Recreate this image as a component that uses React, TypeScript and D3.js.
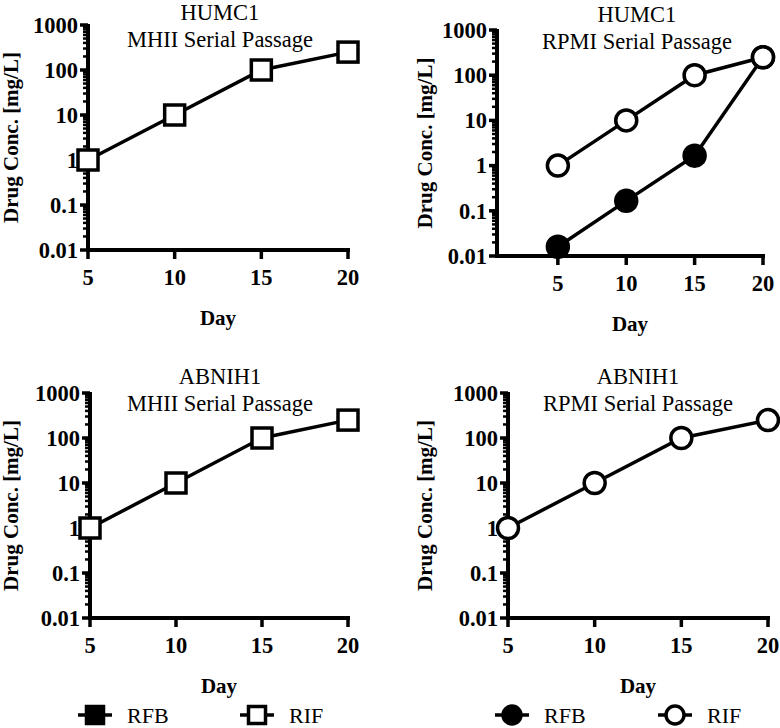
import React from "react";
import * as d3 from "d3";

const days = [5, 10, 15, 20];
const rifHumcMHII = [1, 10, 100, 250];
const rifHumcRPMI = [1, 10, 100, 250];
const rfbHumcRPMI = [0.016, 0.166, 1.66, 250];
const rifAbnihMHII = [1, 10, 100, 250];
const rifAbnihRPMI = [1, 10, 100, 250];
const yMajorTicks = [0.01, 0.1, 1, 10, 100, 1000];
const yTickLabels = ["0.01", "0.1", "1", "10", "100", "1000"];
const xTicks = [5, 10, 15, 20];
const titles = [
  ["HUMC1", "MHII Serial Passage"],
  ["HUMC1", "RPMI Serial Passage"],
  ["ABNIH1", "MHII Serial Passage"],
  ["ABNIH1", "RPMI Serial Passage"],
];
const legendLabels = ["RFB", "RIF"];

type Series = { values: number[]; filled: boolean };
type Panel = {
  x0: number; x1: number; y0: number; y1: number; xMin: number;
  shape: "square" | "circle"; series: Series[]; title: string[]; titleX: number; titleY: number; ylabX: number;
};

const panels: Panel[] = [
  { x0: 88, x1: 348, y0: 25, y1: 250, xMin: 5, shape: "square", series: [{ values: rifHumcMHII, filled: false }], title: titles[0], titleX: 220, titleY: 20, ylabX: 11 },
  { x0: 497, x1: 763, y0: 30, y1: 256, xMin: 0.55, shape: "circle", series: [{ values: rfbHumcRPMI, filled: true }, { values: rifHumcRPMI, filled: false }], title: titles[1], titleX: 637, titleY: 22, ylabX: 425 },
  { x0: 90, x1: 348, y0: 393, y1: 618, xMin: 5, shape: "square", series: [{ values: rifAbnihMHII, filled: false }], title: titles[2], titleX: 220, titleY: 384, ylabX: 11 },
  { x0: 508, x1: 768, y0: 393, y1: 618, xMin: 5, shape: "circle", series: [{ values: rifAbnihRPMI, filled: false }], title: titles[3], titleX: 638, titleY: 384, ylabX: 425 },
];

const serif = "Liberation Serif, Tinos, Times New Roman, Times, DejaVu Serif, serif";

function Marker({ x, y, shape, filled, size = 20 }: { x: number; y: number; shape: string; filled: boolean; size?: number }) {
  const fill = filled ? "#000" : "#fff";
  if (shape === "square") {
    return <rect x={x - size / 2} y={y - size / 2} width={size} height={size} fill={fill} stroke="#000" strokeWidth={3.5} />;
  }
  return <circle cx={x} cy={y} r={size / 2} fill={fill} stroke="#000" strokeWidth={3.5} />;
}

function PanelView({ p }: { p: Panel }) {
  const y = d3.scaleLog().domain([0.01, 1000]).range([p.y1, p.y0]);
  const x = d3.scaleLinear().domain([p.xMin, 20]).range([p.x0, p.x1]);
  const minor: number[] = [];
  for (let k = -2; k <= 2; k++) for (let m = 2; m <= 9; m++) minor.push(m * Math.pow(10, k));
  const line = d3.line<number>().x((_, i) => x(days[i])).y((v) => y(v));
  return (
    <g>
      {p.series.map((s, si) => (
        <path key={si} d={line(s.values) || ""} fill="none" stroke="#000" strokeWidth={3.5} />
      ))}
      <line x1={p.x0} x2={p.x0} y1={p.y0 - 1} y2={p.y1 + 2} stroke="#000" strokeWidth={4} />
      <line x1={p.x0 - 2} x2={p.x1 + 2} y1={p.y1} y2={p.y1} stroke="#000" strokeWidth={4} />
      {minor.map((v, i) => (
        <line key={"mn" + i} x1={p.x0 - 5} x2={p.x0} y1={y(v)} y2={y(v)} stroke="#000" strokeWidth={2.5} />
      ))}
      {yMajorTicks.map((v, i) => (
        <g key={"mj" + i}>
          <line x1={p.x0 - 8} x2={p.x0} y1={y(v)} y2={y(v)} stroke="#000" strokeWidth={3.5} />
          <text x={p.x0 - 10} y={y(v)} dy="0.35em" textAnchor="end" fontFamily={serif} fontWeight="bold" fontSize={22.5}>{yTickLabels[i]}</text>
        </g>
      ))}
      {xTicks.map((v, i) => (
        <g key={"xt" + i}>
          <line x1={x(v)} x2={x(v)} y1={p.y1} y2={p.y1 + 9} stroke="#000" strokeWidth={3.5} />
          <text x={x(v)} y={p.y1 + 35} textAnchor="middle" fontFamily={serif} fontWeight="bold" fontSize={22.5}>{v}</text>
        </g>
      ))}
      <text x={(p.x0 + p.x1) / 2} y={p.y1 + 75} textAnchor="middle" fontFamily={serif} fontWeight="bold" fontSize={21}>Day</text>
      <text transform={`translate(${p.ylabX},${(p.y0 + p.y1) / 2}) rotate(-90)`} dy="0.35em" textAnchor="middle" fontFamily={serif} fontWeight="bold" fontSize={21}>Drug Conc. [mg/L]</text>
      <text x={p.titleX} y={p.titleY} textAnchor="middle" fontFamily={serif} fontSize={22.5}>{p.title[0]}</text>
      <text x={p.titleX} y={p.titleY + 27} textAnchor="middle" fontFamily={serif} fontSize={22.5}>{p.title[1]}</text>
      {p.series.map((s, si) => (
        <g key={"m" + si}>
          {s.values.map((v, i) => (
            <Marker key={i} x={x(days[i])} y={y(v)} shape={p.shape} filled={s.filled} size={p.shape === "circle" ? 21 : 20} />
          ))}
        </g>
      ))}
    </g>
  );
}

function LegendItem({ x, y, shape, filled, label }: { x: number; y: number; shape: string; filled: boolean; label: string }) {
  return (
    <g>
      <line x1={x - 17} x2={x + 17} y1={y} y2={y} stroke="#000" strokeWidth={3.5} />
      <Marker x={x} y={y} shape={shape} filled={filled} size={shape === "circle" ? 18 : 17} />
      <text x={x + 32} y={y} dy="0.35em" fontFamily={serif} fontSize={22}>{label}</text>
    </g>
  );
}

export default function App() {
  const legendY = 715;
  return (
    <svg width={780} height={728} style={{ position: "absolute", left: 0, top: 0, background: "#fff" }}>
      <rect width={780} height={728} fill="#fff" />
      {panels.map((p, i) => (
        <PanelView key={i} p={p} />
      ))}
      <LegendItem x={95} y={legendY} shape="square" filled={true} label={legendLabels[0]} />
      <LegendItem x={257} y={legendY} shape="square" filled={false} label={legendLabels[1]} />
      <LegendItem x={512} y={legendY} shape="circle" filled={true} label={legendLabels[0]} />
      <LegendItem x={675} y={legendY} shape="circle" filled={false} label={legendLabels[1]} />
    </svg>
  );
}
